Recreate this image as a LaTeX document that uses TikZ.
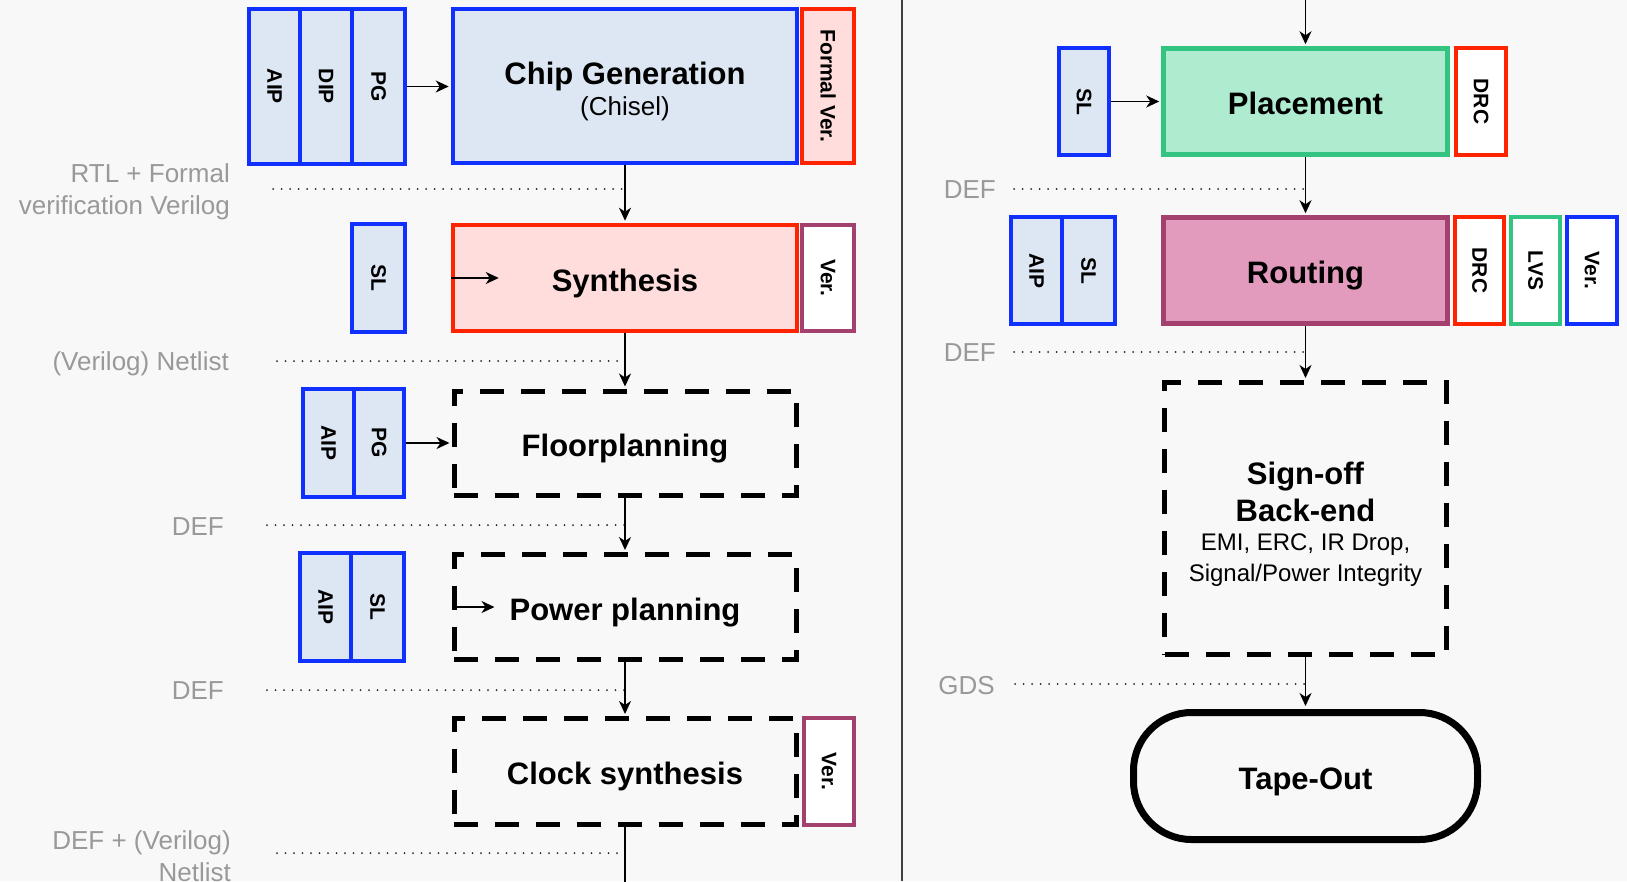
\documentclass[tikz,border=0pt]{standalone}
\usepackage{fontspec}
\setmainfont{Liberation Sans}
\usepackage{graphicx}
\usetikzlibrary{arrows.meta}
\definecolor{bgc}{HTML}{F8F8F8}
\definecolor{blueS}{HTML}{1030FF}
\definecolor{blueF}{HTML}{DDE7F3}
\definecolor{redS}{HTML}{FF2400}
\definecolor{redF}{HTML}{FFDDDD}
\definecolor{purS}{HTML}{A3406E}
\definecolor{grnS}{HTML}{33C481}
\definecolor{grnF}{HTML}{AEEBCF}
\definecolor{pinkF}{HTML}{E29ABD}
\definecolor{grayT}{HTML}{999999}
\tikzset{
  blk/.style={draw, line width=4.5pt, inner sep=0pt, font=\fontsize{21}{21}\selectfont\bfseries},
  bluebox/.style={blk, draw=blueS, fill=blueF},
  sidebox/.style={blk, fill=white},
  mainbox/.style={draw, line width=4.5pt, inner sep=0pt, text depth=0pt, text height=26pt, font=\fontsize{31}{37}\selectfont\bfseries},
  dbox/.style={draw, line width=5pt, dash pattern=on 24pt off 17pt, inner sep=0pt, text depth=0pt, text height=26pt, font=\fontsize{31}{37}\selectfont\bfseries},
  txt/.style={inner sep=0pt, align=center, font=\fontsize{31}{37}\selectfont\bfseries},
  lbl/.style={text=grayT, anchor=east, align=right, inner sep=0pt, font=\fontsize{26}{32}\selectfont},
  arr/.style={-{Stealth[length=13pt,width=12pt,inset=4pt]}, line width=1.6pt, shorten >=2pt},
  dots/.style={line width=2pt, dash pattern=on 0pt off 8.5pt, line cap=round, black!85},
}
\newcommand{\rt}[1]{\rotatebox{-90}{#1}}
\begin{document}
\begin{tikzpicture}[x=1pt, y=-1pt]
\fill[bgc] (0,0) rectangle (1627,881);
\useasboundingbox (0,0) rectangle (1627,881);

% divider
\coordinate (divT) at (902,0);
\coordinate (divB) at (902,881);
\draw[line width=2pt, black!75] (divT) -- (divB);

% ---------- left column ----------
\node[bluebox, minimum width=51pt, minimum height=155pt] (aip1) at (274.5,86.5) {\rt{AIP}};
\node[bluebox, minimum width=52pt, minimum height=155pt] (dip1) at (326,86.5) {\rt{DIP}};
\node[bluebox, minimum width=53pt, minimum height=155pt] (pg1) at (378.5,86.5) {\rt{PG}};
\node[mainbox, draw=blueS, fill=blueF, minimum width=344pt, minimum height=154pt] (cg) at (625,86) {};
\node[txt] (cgt) at (625,91) {Chip Generation\\[-6pt]{\fontsize{26}{30}\selectfont\mdseries (Chisel)}};
\node[blk, draw=redS, fill=redF, minimum width=52pt, minimum height=154pt] (fv) at (828,86) {\rt{Formal Ver.}};

\node[lbl] (l1) at (230,192) {RTL + Formal\\verification Verilog};
\coordinate (d1) at (273,189);
\draw[dots] (d1) -- (d1 -| cg.south);

\node[bluebox, minimum width=53pt, minimum height=108pt] (sl1) at (378.5,278) {\rt{SL}};
\node[mainbox, draw=redS, fill=redF, minimum width=344pt, minimum height=106pt] (syn) at (625,278) {Synthesis};
\node[sidebox, draw=purS, minimum width=52pt, minimum height=106pt] (v1) at (828,278) {\rt{Ver.}};

\node[lbl] (l2) at (229,364) {(Verilog) Netlist};
\coordinate (d2) at (277,361);
\draw[dots] (d2) -- (d2 -| syn.south);

\node[bluebox, minimum width=51pt, minimum height=108pt] (aip2) at (328.5,443) {\rt{AIP}};
\node[bluebox, minimum width=50pt, minimum height=108pt] (pg2) at (379,443) {\rt{PG}};
\node[dbox, minimum width=342pt, minimum height=104pt] (fp) at (625,443) {Floorplanning};

\node[lbl] (l3) at (224,527) {DEF};
\coordinate (d3) at (267,525);
\draw[dots] (d3) -- (d3 -| fp.south);

\node[bluebox, minimum width=51pt, minimum height=108pt] (aip3) at (325.5,607) {\rt{AIP}};
\node[bluebox, minimum width=53pt, minimum height=108pt] (sl3) at (377.5,607) {\rt{SL}};
\node[dbox, minimum width=342pt, minimum height=105pt] (pw) at (625,607) {Power planning};

\node[lbl] (l4) at (224,691) {DEF};
\coordinate (d4) at (267,690);
\draw[dots] (d4) -- (d4 -| pw.south);

\node[dbox, minimum width=342pt, minimum height=106pt] (cs) at (625,771.5) {Clock synthesis};
\node[sidebox, draw=purS, minimum width=50pt, minimum height=107pt] (v2) at (829,771.5) {\rt{Ver.}};

\node[lbl] (l5) at (231,856) {DEF + (Verilog)\\Netlist};
\coordinate (d5) at (277,853);
\draw[dots] (d5) -- (d5 -| cs.south);
\coordinate (cbot) at (625,890);

% left arrows
\draw[arr] (pg1.east) -- (pg1.east -| cg.west);
\draw[arr] (cg.south) -- (syn.north);
\draw[arr, shorten >=0pt] (syn.west) -- ++(48,0);
\draw[arr] (syn.south) -- (fp.north);
\draw[arr] (pg2.east) -- (pg2.east -| fp.west);
\draw[arr] (fp.south) -- (pw.north);
\draw[arr, shorten >=0pt] (pw.west) -- ++(43,0);
\draw[arr] (pw.south) -- (cs.north);
\draw[line width=1.6pt] (cs.south) -- (cbot);

% ---------- right column ----------
\node[bluebox, minimum width=50pt, minimum height=107pt] (sl4) at (1084,101.5) {\rt{SL}};
\node[mainbox, draw=grnS, fill=grnF, minimum width=284pt, minimum height=106pt] (pl) at (1305.5,101.5) {Placement};
\node[sidebox, draw=redS, minimum width=50pt, minimum height=107pt] (drc1) at (1481,101.5) {\rt{DRC}};

\node[lbl] (l6) at (996,190) {DEF};
\coordinate (d6) at (1014,189);
\draw[dots] (d6) -- (d6 -| pl.south);

\node[bluebox, minimum width=51pt, minimum height=107pt] (aip5) at (1036.5,270.5) {\rt{AIP}};
\node[bluebox, minimum width=53pt, minimum height=107pt] (sl5) at (1088.5,270.5) {\rt{SL}};
\node[mainbox, draw=purS, fill=pinkF, minimum width=284pt, minimum height=106pt] (rtg) at (1305.5,270.5) {Routing};
\node[sidebox, draw=redS, minimum width=49pt, minimum height=107pt] (drc2) at (1479.5,270.5) {\rt{DRC}};
\node[sidebox, draw=grnS, minimum width=49pt, minimum height=107pt] (lvs) at (1535.5,270.5) {\rt{LVS}};
\node[sidebox, draw=blueS, minimum width=50pt, minimum height=107pt] (v3) at (1592,270.5) {\rt{Ver.}};

\node[lbl] (l7) at (996,353) {DEF};
\coordinate (d7) at (1014,352);
\draw[dots] (d7) -- (d7 -| rtg.south);

\node[dbox, minimum width=282pt, minimum height=272pt] (so) at (1305.5,518.5) {};
\node[txt] (sot) at (1305.5,524) {Sign-off\\Back-end\\[-8pt]{\fontsize{24}{30}\selectfont\mdseries EMI, ERC, IR Drop,}\\[-6pt]{\fontsize{24}{30}\selectfont\mdseries Signal/Power Integrity}};

\node[lbl] (l8) at (995,686) {GDS};
\coordinate (d8) at (1015,684);
\draw[dots] (d8) -- (d8 -| so.south);

\node[draw, line width=7pt, rounded corners=58pt, minimum width=344pt, minimum height=127pt, inner sep=0pt, text depth=0pt, text height=26pt,
  font=\fontsize{31}{37}\selectfont\bfseries] (to) at (1305.5,776) {Tape-Out};

% right arrows
\coordinate (rtop) at (1305.5,-5);
\draw[arr] (rtop) -- (pl.north);
\draw[arr] (sl4.east) -- (sl4.east -| pl.west);
\draw[arr] (pl.south) -- (rtg.north);
\draw[arr] (rtg.south) -- (so.north);
\draw[arr, shorten >=3pt] (so.south) -- (to.north);
\end{tikzpicture}
\end{document}
